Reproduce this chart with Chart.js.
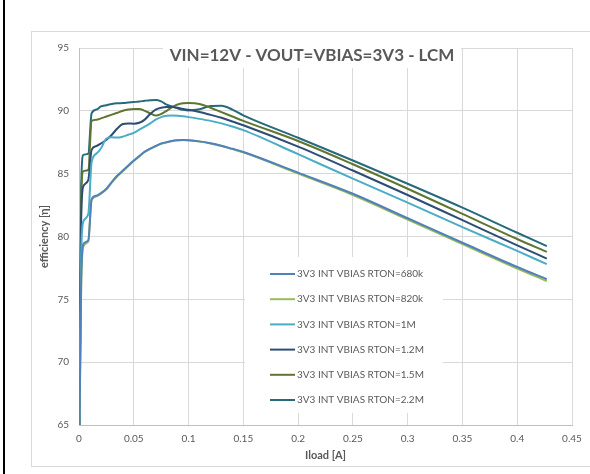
<!DOCTYPE html>
<html>
<head>
<meta charset="utf-8">
<script src="https://cdn.jsdelivr.net/npm/chart.js@4.4.0/dist/chart.umd.min.js"></script>
<style>
  html, body { margin: 0; padding: 0; background: #fff; overflow: hidden; }
  body { width: 590px; height: 474px; position: relative; }
  #edge { position: absolute; left: 3px; top: 0; width: 2px; height: 474px; background: #000; }
  #frame { position: absolute; left: 31px; top: 31px; width: 600px; height: 434px; border: 1px solid #d9d9d9; }
  #chart { position: absolute; left: 0; top: 0; }
</style>
</head>
<body>
<div id="edge"></div>
<div id="frame"><canvas id="chart" width="558" height="434"></canvas></div>
<script>
const chartTitle = 'VIN=12V - VOUT=VBIAS=3V3 - LCM';
const xTitle = 'Iload [A]';
const yTitle = 'efficiency [η]';

const seriesNames = [
  '3V3 INT VBIAS RTON=680k',
  '3V3 INT VBIAS RTON=820k',
  '3V3 INT VBIAS RTON=1M',
  '3V3 INT VBIAS RTON=1.2M',
  '3V3 INT VBIAS RTON=1.5M',
  '3V3 INT VBIAS RTON=2.2M'
];
const seriesColors = ['#4f81bd', '#9bbb59', '#4bacc6', '#2c4d75', '#5f7530', '#276a7c'];

// load current [A], shared by all series
const iload = [0.0005, 0.002, 0.004, 0.0085, 0.0115, 0.016, 0.02, 0.025, 0.03, 0.035, 0.04, 0.045,
  0.05, 0.055, 0.06, 0.065, 0.07, 0.075, 0.08, 0.085, 0.09, 0.095, 0.1, 0.11, 0.12, 0.13, 0.14,
  0.15, 0.2, 0.25, 0.3, 0.35, 0.4, 0.427];

const eff680k = [65, 76.5, 79.4, 79.7, 82.95, 83.25, 83.45, 83.8, 84.35, 84.85, 85.25, 85.65,
  86.05, 86.4, 86.75, 87.0, 87.2, 87.4, 87.5, 87.6, 87.65, 87.67, 87.66, 87.57, 87.42, 87.22, 86.98,
  86.73, 85.08, 83.4, 81.45, 79.5, 77.57, 76.6];
const eff820k = [65, 76.0, 79.2, 79.6, 82.9, 83.2, 83.4, 83.75, 84.3, 84.8, 85.2, 85.6,
  86.0, 86.35, 86.72, 86.98, 87.18, 87.38, 87.5, 87.6, 87.65, 87.67, 87.65, 87.55, 87.4, 87.2, 86.95,
  86.7, 85.0, 83.3, 81.35, 79.4, 77.45, 76.45];
const eff1M = [65, 78.5, 81.2, 81.8, 85.9, 86.6, 87.0, 87.8, 87.9, 87.87, 87.95, 88.1,
  88.25, 88.5, 88.75, 89.0, 89.3, 89.5, 89.6, 89.62, 89.6, 89.56, 89.5, 89.36, 89.2, 89.0, 88.75,
  88.46, 86.55, 84.6, 82.7, 80.75, 78.85, 77.8];
const eff1M2 = [65, 81.5, 84.0, 84.5, 86.9, 87.2, 87.4, 87.7, 88.1, 88.6, 88.95, 89.0,
  88.98, 89.05, 89.3, 89.75, 90.1, 90.25, 90.3, 90.3, 90.25, 90.15, 90.08, 89.9, 89.68, 89.45, 89.15,
  88.85, 87.15, 85.25, 83.3, 81.3, 79.3, 78.24];
const eff1M5 = [65, 83.0, 85.2, 85.3, 89.2, 89.3, 89.4, 89.55, 89.7, 89.85, 90.0, 90.1,
  90.15, 90.15, 90.0, 89.8, 89.62, 89.75, 90.0, 90.3, 90.5, 90.6, 90.62, 90.55, 90.25, 89.9, 89.55,
  89.2, 87.6, 85.75, 83.8, 81.8, 79.8, 78.77];
const eff2M2 = [65, 84.0, 86.5, 86.6, 89.8, 90.1, 90.35, 90.45, 90.55, 90.6, 90.62, 90.66,
  90.7, 90.74, 90.8, 90.85, 90.86, 90.75, 90.5, 90.35, 90.2, 90.08, 90.03, 90.12, 90.38, 90.4, 90.1,
  89.64, 87.86, 86.05, 84.2, 82.3, 80.3, 79.24];

const seriesValues = [eff680k, eff820k, eff1M, eff1M2, eff1M5, eff2M2];

const textColor = '#595959';
const fontFamily = 'Lato, "Open Sans", sans-serif';

// title and legend both sit inside the plot on white boxes
const insideBoxes = {
  id: 'insideBoxes',
  afterDraw(chart) {
    const ctx = chart.ctx;
    ctx.save();
    ctx.fillStyle = '#fff';
    ctx.fillRect(131, 10, 298, 26);
    ctx.fillStyle = textColor;
    ctx.font = 'bold 17px ' + fontFamily;
    ctx.textAlign = 'center';
    ctx.textBaseline = 'middle';
    ctx.fillText(chartTitle, 280, 24);

    ctx.fillStyle = '#fff';
    ctx.fillRect(213, 225, 198, 156);
    ctx.font = '10px ' + fontFamily;
    ctx.textAlign = 'left';
    chart.data.datasets.forEach((ds, i) => {
      const y = 242 + i * 25.2;
      ctx.strokeStyle = ds.borderColor;
      ctx.lineWidth = 2;
      ctx.beginPath();
      ctx.moveTo(238, y);
      ctx.lineTo(263, y);
      ctx.stroke();
      ctx.fillStyle = textColor;
      ctx.fillText(ds.label, 265, y);
    });
    ctx.restore();
  }
};

new Chart(document.getElementById('chart'), {
  type: 'line',
  data: {
    datasets: seriesNames.map((name, i) => ({
      label: name,
      data: iload.map((x, j) => ({ x: x, y: seriesValues[i][j] })),
      borderColor: seriesColors[i],
      backgroundColor: seriesColors[i],
      borderWidth: 2,
      pointRadius: 0,
      cubicInterpolationMode: 'monotone',
      fill: false
    }))
  },
  options: {
    responsive: false,
    devicePixelRatio: 1,
    animation: false,
    layout: { padding: { top: 11, right: 18, left: 0, bottom: 0 } },
    plugins: {
      legend: { display: false },
      title: { display: false },
      tooltip: { enabled: false }
    },
    scales: {
      x: {
        type: 'linear',
        min: 0,
        max: 0.45,
        afterFit: (scale) => { scale.height = 41; },
        ticks: {
          stepSize: 0.05,
          padding: 8,
          color: textColor,
          font: { family: fontFamily, size: 10 },
          callback: (v) => +v.toFixed(2)
        },
        grid: { color: '#d9d9d9', drawTicks: false },
        border: { color: '#bfbfbf' },
        title: {
          display: true,
          text: xTitle,
          color: textColor,
          font: { family: fontFamily, size: 11, weight: 'bold' },
          padding: { top: 0, bottom: 4 }
        }
      },
      y: {
        min: 65,
        max: 95,
        afterFit: (scale) => { scale.width = 47; },
        ticks: {
          stepSize: 5,
          padding: 10,
          color: textColor,
          font: { family: fontFamily, size: 10 }
        },
        grid: { color: '#d9d9d9', drawTicks: false },
        border: { color: '#bfbfbf' },
        title: {
          display: true,
          text: yTitle,
          color: textColor,
          font: { family: fontFamily, size: 11, weight: 'bold' },
          padding: { top: 6, bottom: 0 }
        }
      }
    }
  },
  plugins: [insideBoxes]
});
</script>
</body>
</html>
